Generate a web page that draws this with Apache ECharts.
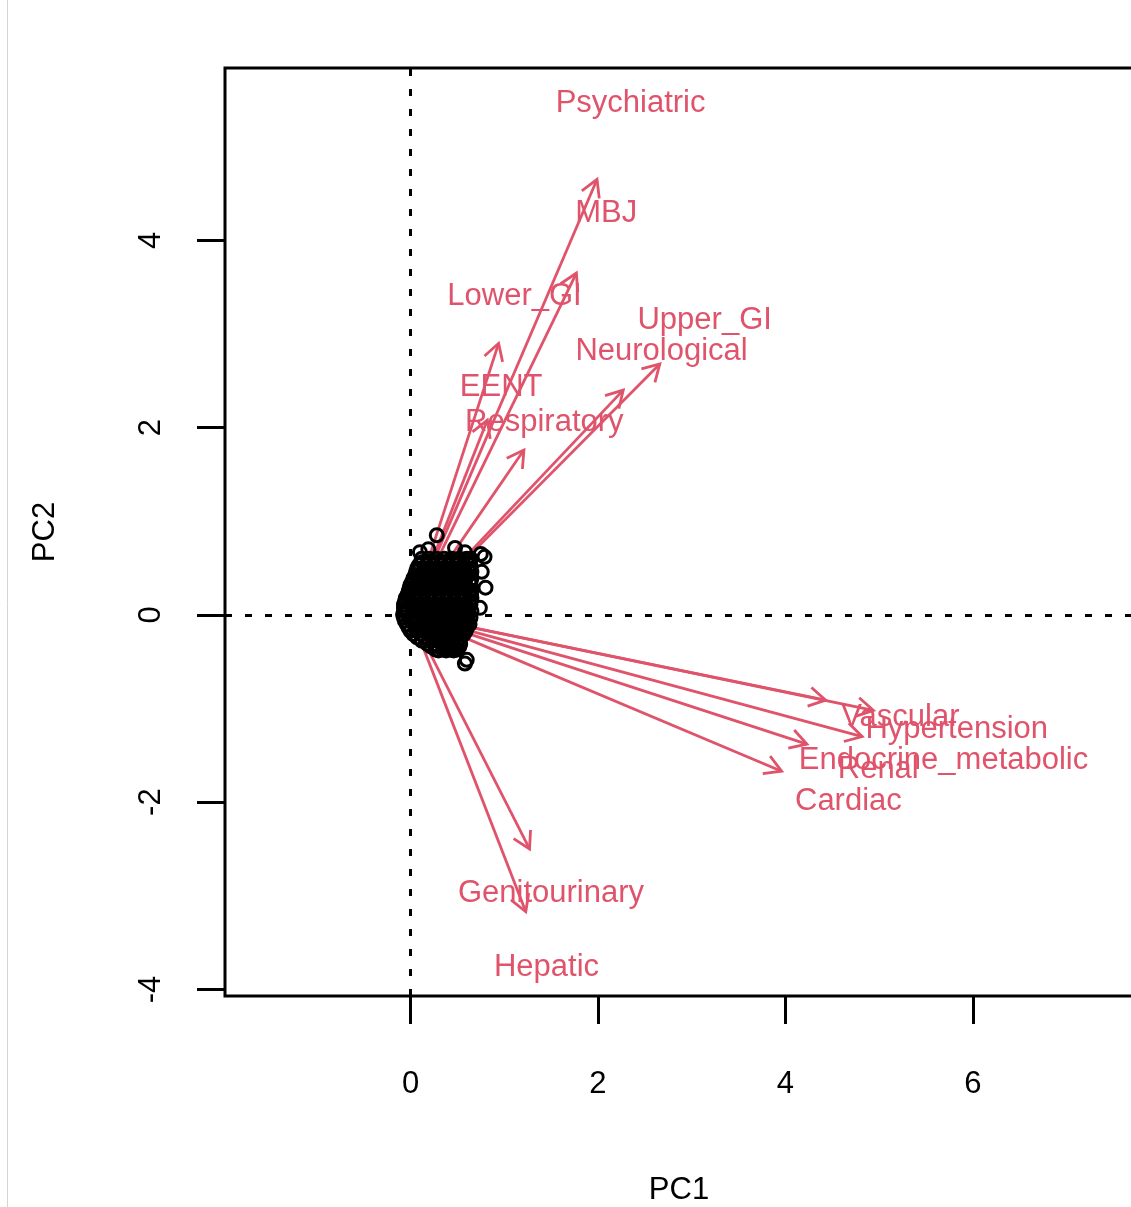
<!DOCTYPE html>
<html>
<head>
<meta charset="utf-8">
<script src="https://cdn.jsdelivr.net/npm/echarts@6/dist/echarts.min.js"></script>
<style>
  html, body { margin: 0; padding: 0; background: #fff; }
  #chart { width: 1131px; height: 1207px; }
</style>
</head>
<body>
<div id="chart"></div>
<script>
// variable loadings (arrow tips)
const varNames = ['Psychiatric', 'MBJ', 'Lower_GI', 'Upper_GI', 'Neurological', 'EENT', 'Respiratory',
  'Vascular', 'Hypertension', 'Endocrine_metabolic', 'Renal', 'Cardiac', 'Genitourinary', 'Hepatic']
const varPC1 = [1.99, 1.77, 0.94, 2.66, 2.27, 0.82, 1.21, 4.43, 4.94, 4.82, 4.23, 3.96, 1.27, 1.23]
const varPC2 = [4.65, 3.65, 2.90, 2.68, 2.40, 2.08, 1.76, -0.91, -1.02, -1.30, -1.38, -1.67, -2.50, -3.17]

// observation scores: rows of [PC2, [PC1 ...]] for the dense blob near the origin
const scoreRows = [
  [0.60, [0.12, 0.20, 0.28, 0.36, 0.44, 0.52, 0.60, 0.64]],
  [0.565, [0.13, 0.21, 0.29, 0.37, 0.45, 0.53, 0.61]],
  [0.53, [0.09, 0.17, 0.25, 0.33, 0.41, 0.49, 0.57, 0.64]],
  [0.495, [0.07, 0.15, 0.23, 0.31, 0.39, 0.47, 0.55, 0.63]],
  [0.46, [0.06, 0.14, 0.22, 0.30, 0.38, 0.46, 0.54, 0.62, 0.65]],
  [0.425, [0.05, 0.13, 0.21, 0.29, 0.37, 0.45, 0.53, 0.61]],
  [0.39, [0.03, 0.11, 0.19, 0.27, 0.35, 0.43, 0.51, 0.59, 0.65]],
  [0.355, [0.02, 0.10, 0.18, 0.26, 0.34, 0.42, 0.50, 0.58, 0.64]],
  [0.32, [0.00, 0.08, 0.16, 0.24, 0.32, 0.40, 0.48, 0.56, 0.64]],
  [0.285, [-0.01, 0.04, 0.12, 0.20, 0.28, 0.36, 0.44, 0.52, 0.60]],
  [0.25, [-0.02, 0.06, 0.14, 0.22, 0.30, 0.38, 0.46, 0.54, 0.62, 0.65]],
  [0.215, [-0.03, 0.02, 0.10, 0.18, 0.26, 0.34, 0.42, 0.50, 0.58, 0.64]],
  [0.18, [-0.05, 0.03, 0.11, 0.19, 0.27, 0.35, 0.43, 0.51, 0.59, 0.65]],
  [0.145, [-0.06, 0.07, 0.15, 0.23, 0.31, 0.39, 0.47, 0.55, 0.63]],
  [0.11, [-0.07, 0.01, 0.09, 0.17, 0.25, 0.33, 0.41, 0.49, 0.57, 0.64]],
  [0.075, [-0.07, 0.05, 0.13, 0.21, 0.29, 0.37, 0.45, 0.53, 0.61]],
  [0.04, [-0.07, -0.03, 0.05, 0.13, 0.21, 0.29, 0.37, 0.45, 0.53, 0.61, 0.65]],
  [0.005, [-0.08, 0.05, 0.13, 0.21, 0.29, 0.37, 0.45, 0.53, 0.61]],
  [-0.03, [-0.07, 0.01, 0.09, 0.17, 0.25, 0.33, 0.41, 0.49, 0.57, 0.64]],
  [-0.065, [-0.06, 0.05, 0.13, 0.21, 0.29, 0.37, 0.45, 0.53, 0.61]],
  [-0.10, [-0.04, 0.04, 0.12, 0.20, 0.28, 0.36, 0.44, 0.52, 0.60, 0.63]],
  [-0.135, [-0.02, 0.06, 0.14, 0.22, 0.30, 0.38, 0.46, 0.54, 0.60]],
  [-0.17, [0.00, 0.08, 0.16, 0.24, 0.32, 0.40, 0.48, 0.56, 0.59]],
  [-0.205, [0.03, 0.11, 0.19, 0.27, 0.35, 0.43, 0.51, 0.57]],
  [-0.24, [0.07, 0.15, 0.23, 0.31, 0.39, 0.47, 0.54]],
  [-0.275, [0.12, 0.20, 0.28, 0.36, 0.44, 0.52]],
  [-0.31, [0.18, 0.26, 0.34, 0.42, 0.50, 0.53]],
  [-0.34, [0.22, 0.30, 0.38, 0.46, 0.52]],
  [-0.37, [0.27, 0.35, 0.43, 0.50]],
  [-0.38, [0.30, 0.38, 0.46]]
]
// the loose circles around the edge of the blob
const edgePoints = [
  [0.28, 0.85], [0.10, 0.67], [0.19, 0.70], [0.475, 0.715], [0.58, 0.67], [0.75, 0.65],
  [0.79, 0.62], [0.76, 0.46], [0.80, 0.29], [0.74, 0.075], [0.60, -0.48], [0.58, -0.52]
]

const xTicks = [0, 2, 4, 6]
const yTicks = [-4, -2, 0, 2, 4]

const RED = '#DF536B'
const FONT = '"Liberation Sans", Arial, Helvetica, sans-serif'
const LABEL_SCALE = 1.18 // labels sit a bit beyond the arrow tips, like biplot()

let scores = []
scoreRows.forEach(r => r[1].forEach(x => scores.push([x, r[0]])))
scores = scores.concat(edgePoints)

const loadings = varNames.map((n, i) => [varPC1[i], varPC2[i], n])

let chart = echarts.init(document.getElementById('chart'), null, { renderer: 'canvas' })
chart.setOption({
  animation: false,
  backgroundColor: '#fff',
  grid: {
    left: 225, top: 68, width: 908, height: 928,
    outerBoundsMode: 'none', containLabel: false,
    show: true, borderColor: '#000', borderWidth: 3, backgroundColor: 'transparent'
  },
  xAxis: {
    type: 'value', min: -1.98, max: 7.71,
    name: 'PC1', nameLocation: 'middle', nameGap: 179,
    nameTextStyle: { color: '#000', fontSize: 31, fontFamily: FONT },
    axisLine: { show: false, onZero: false },
    axisTick: { show: true, length: 28, customValues: xTicks, lineStyle: { color: '#000', width: 3 } },
    axisLabel: { customValues: xTicks, margin: 73, color: '#000', fontSize: 31, fontFamily: FONT },
    splitLine: { show: false }
  },
  yAxis: {
    type: 'value', min: -4.07, max: 5.84,
    name: 'PC2', nameLocation: 'middle', nameGap: 164, nameRotate: 90,
    nameTextStyle: { color: '#000', fontSize: 31, fontFamily: FONT },
    axisLine: { show: false, onZero: false },
    axisTick: { show: true, length: 28, customValues: yTicks, lineStyle: { color: '#000', width: 3 } },
    axisLabel: { customValues: yTicks, rotate: 90, margin: 58, color: '#000', fontSize: 31, fontFamily: FONT },
    splitLine: { show: false }
  },
  graphic: [{
    type: 'line', shape: { x1: 7.5, y1: 0, x2: 7.5, y2: 1207 },
    style: { stroke: '#d4d4d4', lineWidth: 1 }, silent: true
  }],
  series: [
    {
      // dotted zero lines
      type: 'scatter', data: [], z: 1,
      markLine: {
        silent: true, symbol: 'none', label: { show: false },
        lineStyle: { color: '#000', width: 3, type: [7, 13] },
        data: [{ xAxis: 0 }, { yAxis: 0 }]
      }
    },
    {
      type: 'custom', z: 2, silent: true,
      data: loadings,
      renderItem: function (params, api) {
        let x = api.value(0), y = api.value(1)
          , o = api.coord([0, 0])
          , tip = api.coord([x, y])
          , lp = api.coord([x * LABEL_SCALE, y * LABEL_SCALE])
          , ang = Math.atan2(tip[1] - o[1], tip[0] - o[0])
          , h = 19, a = Math.PI / 6
          , b1 = [tip[0] - h * Math.cos(ang - a), tip[1] - h * Math.sin(ang - a)]
          , b2 = [tip[0] - h * Math.cos(ang + a), tip[1] - h * Math.sin(ang + a)]
        return {
          type: 'group',
          children: [
            { type: 'line', shape: { x1: o[0], y1: o[1], x2: tip[0], y2: tip[1] },
              style: { stroke: RED, lineWidth: 2.8 } },
            { type: 'polyline', shape: { points: [b1, tip, b2] },
              style: { stroke: RED, fill: null, lineWidth: 2.8 } },
            { type: 'text', x: lp[0], y: lp[1] + 2,
              style: { text: api.value(2), fill: RED, fontSize: 31, fontFamily: FONT,
                align: 'center', verticalAlign: 'middle' } }
          ]
        }
      }
    },
    {
      type: 'scatter', z: 3, silent: true,
      data: scores,
      symbol: 'circle', symbolSize: 13,
      itemStyle: { color: 'rgba(0,0,0,0)', borderColor: '#000', borderWidth: 3, opacity: 1 },
      emphasis: { disabled: true }
    }
  ]
})
</script>
</body>
</html>
